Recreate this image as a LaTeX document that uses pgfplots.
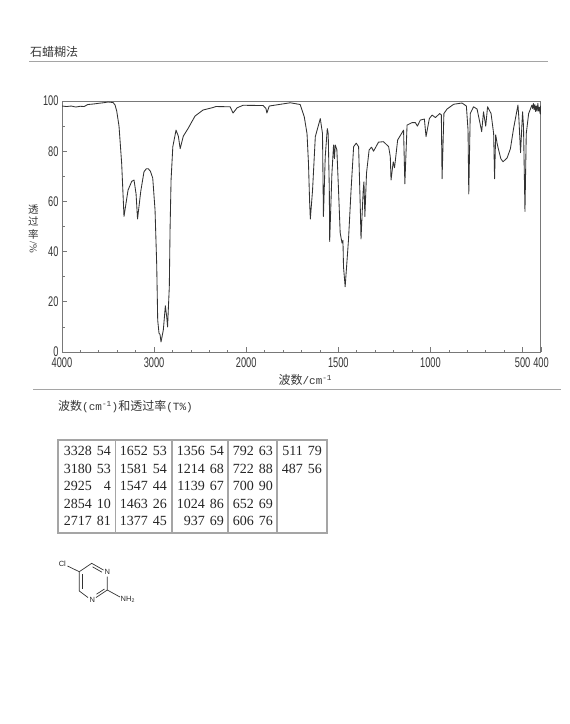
\documentclass[border=0pt]{standalone}
\usepackage{fontspec}
\usepackage{graphicx}
\usepackage{pgfplots}
\pgfplotsset{compat=1.18}
\setmainfont{Liberation Serif}
\newfontfamily\cjk{Noto Sans CJK SC}
\newfontfamily\ticksf[FakeStretch=0.66]{Liberation Sans}
\newfontfamily\molsf{Liberation Sans}
\newfontfamily\mono{Liberation Mono}
\definecolor{txt}{RGB}{55,55,55}
\definecolor{frame}{RGB}{120,120,120}
\definecolor{trace}{RGB}{50,50,50}
\definecolor{rule}{RGB}{165,165,165}

\begin{document}
\begin{tikzpicture}
\useasboundingbox (0pt,0pt) rectangle (570pt,-724pt);
\fill[white] (0pt,0pt) rectangle (570pt,-724pt);

\begin{axis}[
  at={(62pt,-352pt)},anchor=south west,
  scale only axis,width=479pt,height=251pt,
  % wavenumber scale doubles below 2000 cm-1
  x coord trafo/.code={\pgfmathparse{#1>=2000 ? 4000-#1 : 6000-2*#1}},
  xmin=4000,xmax=400,ymin=0,ymax=100,
  xtick={4000,3000,2000,1500,1000,500,400},
  xticklabels={4000,3000,2000,1500,1000,500,400},
  minor xtick={3800,3600,3400,3200,2800,2600,2400,2200,1900,1800,1700,1600,1400,1300,1200,1100,900,800,700,600},
  ytick={0,20,40,60,80,100},
  yticklabels={0,20,40,60,80,100},
  minor ytick={10,30,50,70,90},
  tick align=inside,tick pos=left,
  major tick length=5pt,minor tick length=2.5pt,
  tick style={frame,line width=0.7pt},
  axis line style={frame,line width=1pt},
  tick label style={font=\ticksf\fontsize{14}{14}\selectfont,text=txt},
  xticklabel style={yshift=-2pt},
  xlabel={{\cjk\fontsize{12}{12}\selectfont 波数}{\mono\fontsize{11}{12}\selectfont /cm\textsuperscript{-1}}},
  xlabel style={at={(axis description cs:0.508,-0.112)},anchor=center,text=txt},
  ylabel={\shortstack{\cjk 透\\\cjk 过\\\cjk 率\\\rotatebox{-90}{/\%}}},
  ylabel style={rotate=-90,at={(axis description cs:-0.06,0.49)},anchor=center,
    font=\fontsize{10.5}{11}\selectfont,text=txt},
]
\addplot[trace,line width=0.85pt,line join=round] table {
4000 98.0
3950 97.8
3900 98.0
3850 97.6
3800 97.9
3760 97.8
3720 98.6
3660 98.8
3600 99.1
3550 99.3
3500 99.6
3446 99.4
3425 98.5
3406 96
3381 90
3352 75
3327 54
3283 64.5
3243 68
3218 68.5
3196 63
3180 53
3145 64
3110 71.8
3085 73
3063 73
3040 72
3015 69.3
2990 56.6
2972 35
2961 12.7
2947 7.5
2936 7
2925 4
2900 8.8
2878 18.4
2863 14
2854 10
2835 26
2827 48.6
2816 68.5
2797 81.8
2762 88.4
2737 86
2717 81
2683 86
2632 89
2556 94
2469 96.4
2360 97.4
2330 97.8
2175 97.7
2143 95.2
2099 97.3
2034 98.3
1908 98.2
1893 97
1888 95.2
1875 98
1761 99.3
1707 98.6
1685 93.7
1670 87
1662 75
1656 60
1652 53
1640 64.5
1625 85.8
1598 93
1586 87
1581 54
1571 78
1560 89
1555 87
1549 64.5
1547 44
1535 71
1526 82.5
1521 77
1517 82.5
1508 80.5
1499 64.5
1490 47.4
1480 43.4
1475 44.5
1472 34
1463 26
1445 44.6
1431 64.5
1417 81.8
1403 83.2
1390 81.8
1381 58
1377 45
1365 64.5
1361 67.8
1356 54
1347 71.3
1333 80.5
1320 81.6
1309 80
1282 83.6
1255 83.8
1227 81.8
1218 77.8
1214 68.5
1202 75.8
1195 73.4
1178 84.5
1146 88.4
1139 67
1127 90.4
1100 91.4
1082 91.4
1071 90
1055 92.4
1033 92.8
1024 85.8
1006 93
991 94.4
973 93.4
950 95
941 94.5
937 69
927 95
910 96.8
874 98.7
829 99.2
805 98
796 88.4
792 63
784 95
766 97.7
747 96.8
729 90.4
722 87.8
712 95.7
700 90
690 97.7
671 95
657 87
652 69
646 86.5
638 83
630 80.5
618 77
606 75.8
584 77.3
566 81
549 89
525 98.4
520 93
511 79.4
500 95.7
495 90
487 56
480 87
467 95
449 98.4
445 97
441 99
437 96.5
433 98.5
429 95.8
425 98
421 96
417 99
413 96
409 97.5
405 95
402 98
400 94.5
};
\end{axis}

\begin{scope}[x=1pt,y=-1pt]
% page furniture
\node[anchor=west,text=txt,font=\cjk\fontsize{12}{12}\selectfont,inner sep=0pt] at (30,52) {石蜡糊法};
\draw[rule,line width=0.9pt] (29,61.5) -- (548,61.5);
\draw[rule,line width=0.9pt] (33,389.5) -- (561,389.5);
\node[anchor=west,text=txt,inner sep=0pt] at (58,407)
  {{\cjk\fontsize{12}{12}\selectfont 波数}{\mono\fontsize{11}{12}\selectfont (cm\textsuperscript{-1})}{\cjk\fontsize{12}{12}\selectfont 和透过率}{\mono\fontsize{11}{12}\selectfont (T\%)}};

% peak table
\draw[rule,line width=1.6pt] (58,440) rectangle (327,533);
\foreach \xx in {115.5,172,228,277}
  \draw[rule,line width=1.6pt] (\xx,440) -- (\xx,533);
\foreach \xw/\xt/\rows in {
    92/111/{3328/54/451,3180/53/469,2925/4/486,2854/10/504,2717/81/521},
    148/167/{1652/53/451,1581/54/469,1547/44/486,1463/26/504,1377/45/521},
    205/224/{1356/54/451,1214/68/469,1139/67/486,1024/86/504,937/69/521},
    254/273/{792/63/451,722/88/469,700/90/486,652/69/504,606/76/521},
    303/322/{511/79/451,487/56/469}}{
  \foreach \wn/\tr/\yy in \rows {
    \node[anchor=east,inner sep=0pt,text=black!85,font=\fontsize{14}{14}\selectfont] at (\xw,\yy) {\wn};
    \node[anchor=east,inner sep=0pt,text=black!85,font=\fontsize{14}{14}\selectfont] at (\xt,\yy) {\tr};
  }
}

% 2-amino-5-chloropyrimidine
\begin{scope}[line width=0.7pt,draw=black!80]
\draw (79.3,571.7) -- (91.7,563.3) -- (103.5,570);
\draw (92.5,566.8) -- (102,572.2);
\draw (107.3,576.5) -- (107.3,590) -- (96,597.5);
\draw (104.5,589) -- (96.5,594.2);
\draw (88,597.5) -- (79.3,591) -- (79.3,571.7);
\draw (82.3,588.5) -- (82.3,574);
\draw (79.3,571.7) -- (67.5,566);
\draw (107.3,590) -- (120,597);
\end{scope}
\node[inner sep=0pt,text=black!85,font=\molsf\fontsize{7.5}{8}\selectfont] at (62.3,564.3) {Cl};
\node[inner sep=0pt,text=black!85,font=\molsf\fontsize{7.5}{8}\selectfont] at (107.3,572.3) {N};
\node[inner sep=0pt,text=black!85,font=\molsf\fontsize{7.5}{8}\selectfont] at (92.3,600) {N};
\node[anchor=west,inner sep=0pt,text=black!85,font=\molsf\fontsize{7.5}{8}\selectfont] at (120.5,599.3) {NH\textsubscript{2}};
\end{scope}
\end{tikzpicture}
\end{document}
